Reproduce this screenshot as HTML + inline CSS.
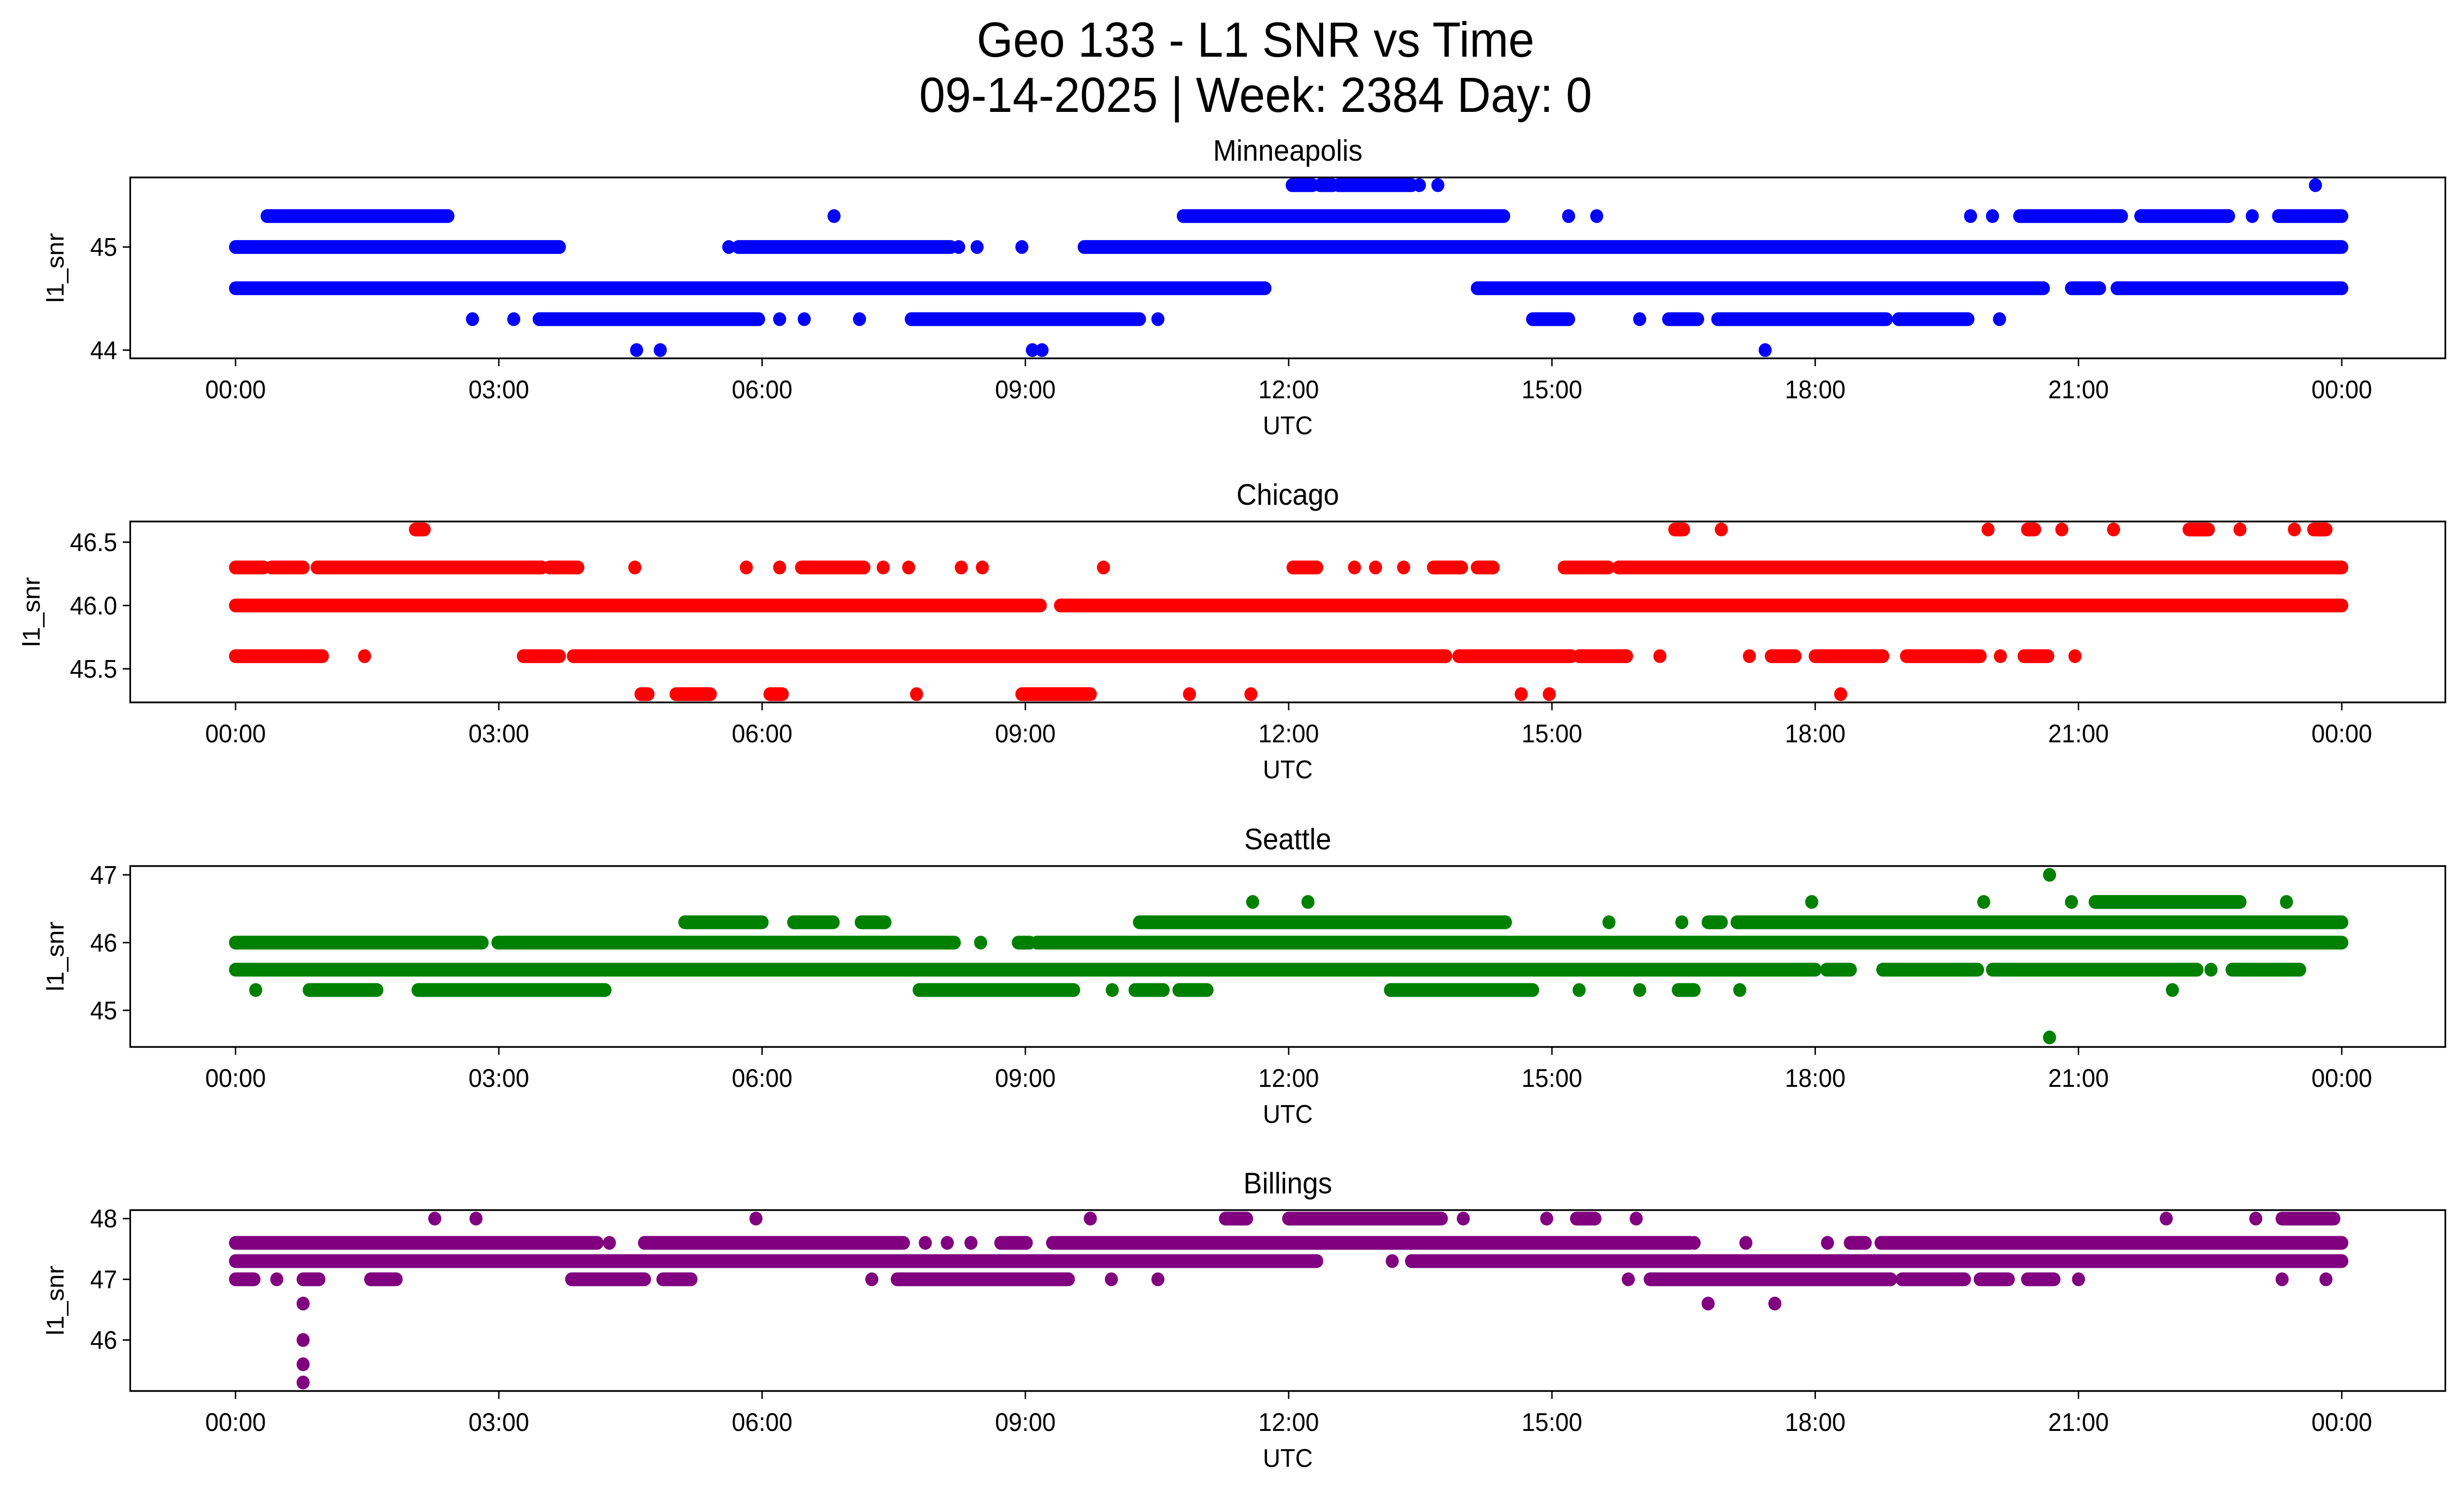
<!DOCTYPE html>
<html><head><meta charset="utf-8"><style>
html,body{margin:0;padding:0;background:#fff;overflow:hidden;width:100%;height:100%;}
svg{display:block;width:100vw;height:100vh;font-family:"Liberation Sans","DejaVu Sans",sans-serif;}
</style></head><body>
<svg id="fig" viewBox="0 0 5279 3033" preserveAspectRatio="none" xmlns="http://www.w3.org/2000/svg">
<rect width="5279" height="3033" fill="#fff"/>
<text x="2690" y="115" font-size="100" text-anchor="middle">Geo 133 - L1 SNR vs Time</text>
<text x="2690" y="227" font-size="100" text-anchor="middle">09-14-2025 | Week: 2384 Day: 0</text>
<g id="plots"></g>
</svg>
<script>
// ---- data (hours UTC, runs of consecutive samples per SNR level) ----
const xTickHours = [0,3,6,9,12,15,18,21,24];
const xTickLabels = ["00:00","03:00","06:00","09:00","12:00","15:00","18:00","21:00","00:00"];

const minnLevels = [45.6,45.3,45.0,44.6,44.3,44.0];
const minnRuns = [
 [[12.04,12.27],[12.36,12.5],[12.57,13.4],[13.49,13.49],[13.7,13.7],[23.7,23.7]],
 [[0.36,2.42],[6.82,6.82],[10.8,14.45],[15.19,15.19],[15.51,15.51],[19.77,19.77],[20.02,20.02],[20.33,21.49],[21.71,22.71],[22.98,22.98],[23.28,24]],
 [[0,3.69],[5.62,5.62],[5.73,8.15],[8.24,8.24],[8.45,8.45],[8.96,8.96],[9.67,24]],
 [[0,11.73],[14.15,20.6],[20.92,21.24],[21.44,24]],
 [[2.7,2.7],[3.17,3.17],[3.46,5.96],[6.2,6.2],[6.48,6.48],[7.11,7.11],[7.7,10.3],[10.51,10.51],[14.78,15.19],[16.0,16.0],[16.33,16.66],[16.89,18.81],[18.95,19.74],[20.1,20.1]],
 [[4.57,4.57],[4.84,4.84],[9.08,9.08],[9.19,9.19],[17.43,17.43]]
];
const chiLevels = [46.6,46.3,46.0,45.6,45.3];
const chiRuns = [
 [[2.05,2.15],[16.4,16.5],[16.93,16.93],[19.97,19.97],[20.42,20.5],[20.81,20.81],[21.4,21.4],[22.26,22.48],[22.84,22.84],[23.46,23.46],[23.68,23.82]],
 [[0,0.32],[0.41,0.77],[0.93,3.49],[3.58,3.9],[4.55,4.55],[5.82,5.82],[6.2,6.2],[6.45,7.16],[7.38,7.38],[7.67,7.67],[8.27,8.27],[8.51,8.51],[9.89,9.89],[12.05,12.32],[12.75,12.75],[12.99,12.99],[13.31,13.31],[13.65,13.97],[14.15,14.33],[15.14,15.64],[15.76,24]],
 [[0,9.17],[9.4,24]],
 [[0,0.99],[1.47,1.47],[3.28,3.69],[3.85,13.79],[13.94,15.22],[15.31,15.85],[16.23,16.23],[17.25,17.25],[17.5,17.77],[18.0,18.77],[19.04,19.88],[20.11,20.11],[20.38,20.65],[20.96,20.96]],
 [[4.62,4.7],[5.02,5.41],[6.09,6.23],[7.76,7.76],[8.96,9.74],[10.87,10.87],[11.57,11.57],[14.65,14.65],[14.97,14.97],[18.29,18.29]]
];
const seaLevels = [47.0,46.6,46.3,46.0,45.6,45.3,44.6];
const seaRuns = [
 [[20.67,20.67]],
 [[11.59,11.59],[12.22,12.22],[17.96,17.96],[19.92,19.92],[20.92,20.92],[21.19,22.84],[23.37,23.37]],
 [[5.12,6.0],[6.36,6.81],[7.13,7.4],[10.3,14.47],[15.65,15.65],[16.48,16.48],[16.78,16.93],[17.11,24]],
 [[0,2.81],[2.99,8.19],[8.49,8.49],[8.92,9.05],[9.13,24]],
 [[0,18.0],[18.13,18.4],[18.77,19.85],[20.02,22.35],[22.51,22.51],[22.75,23.52]],
 [[0.23,0.23],[0.84,1.61],[2.08,4.21],[7.79,9.55],[9.99,9.99],[10.25,10.57],[10.75,11.07],[13.16,14.78],[15.31,15.31],[16.0,16.0],[16.44,16.62],[17.14,17.14],[22.07,22.07]],
 [[20.67,20.67]]
];
const bilLevels = [48.0,47.6,47.3,47.0,46.6,46.0,45.6,45.3];
const bilRuns = [
 [[2.27,2.27],[2.74,2.74],[5.93,5.93],[9.74,9.74],[11.28,11.52],[12.0,13.74],[13.99,13.99],[14.94,14.94],[15.28,15.49],[15.96,15.96],[22.0,22.0],[23.02,23.02],[23.32,23.91]],
 [[0,4.12],[4.26,4.26],[4.66,7.61],[7.86,7.86],[8.11,8.11],[8.38,8.38],[8.72,9.01],[9.31,16.57],[16.62,16.62],[17.21,17.21],[18.14,18.14],[18.4,18.57],[18.75,24]],
 [[0,12.32],[13.18,13.18],[13.4,24]],
 [[0,0.21],[0.47,0.47],[0.77,0.95],[1.54,1.83],[3.83,4.66],[4.87,5.19],[7.25,7.25],[7.54,9.49],[9.98,9.98],[10.51,10.51],[15.87,15.87],[16.12,18.86],[18.99,19.7],[19.88,20.2],[20.42,20.72],[21.0,21.0],[23.32,23.32],[23.82,23.82]],
 [[0.77,0.77],[16.78,16.78],[17.54,17.54]],
 [[0.77,0.77]],
 [[0.77,0.77]],
 [[0.77,0.77]]
];

const panels = [
 {name:"minneapolis", title:"Minneapolis", color:"#0000ff", levels:minnLevels, runs:minnRuns, top:360, ymin:43.92, ymax:45.675, yticks:[44,45], ylab:["44","45"], ylx:118},
 {name:"chicago", title:"Chicago", color:"#ff0000", levels:chiLevels, runs:chiRuns, top:1058, ymin:45.235, ymax:46.663, yticks:[45.5,46.0,46.5], ylab:["45.5","46.0","46.5"], ylx:67},
 {name:"seattle", title:"Seattle", color:"#008000", levels:seaLevels, runs:seaRuns, top:1757, ymin:44.46, ymax:47.13, yticks:[45,46,47], ylab:["45","46","47"], ylx:118},
 {name:"billings", title:"Billings", color:"#800080", levels:bilLevels, runs:bilRuns, top:2455, ymin:45.16, ymax:48.14, yticks:[46,47,48], ylab:["46","47","48"], ylx:118}
];

const NS = "http://www.w3.org/2000/svg";
const AX_L = 279, AX_R = 5239, AX_H = 367;
const X0 = -1.2, X1 = 25.18;
function xs(h){ return AX_L + (h - X0) / (X1 - X0) * (AX_R - AX_L); }
function mk(tag, attrs, parent){
  const e = document.createElementNS(NS, tag);
  for (const k in attrs) e.setAttribute(k, attrs[k]);
  parent.appendChild(e); return e;
}
const root = document.getElementById("plots");
const R = 14;
panels.forEach(p => {
  const g = mk("g", {}, root);
  
  
  const top = p.top, bot = top + AX_H;
  const ys = v => bot - (v - p.ymin) / (p.ymax - p.ymin) * AX_H;
  const t = mk("text", {x:(AX_L+AX_R)/2, y:top-34, "font-size":60, "text-anchor":"middle"}, g);
  t.textContent = p.title;
  
  
  const dg = mk("g", {fill:p.color, stroke:p.color}, g);
  
  
  p.levels.forEach((lv, i) => {
    const y = ys(lv);
    p.runs[i].forEach(r => {
      let m;
      if (r[0] === r[1]) {
        m = mk("circle", {cx:xs(r[0]), cy:y, r:R, stroke:"none"}, dg);
      } else {
        m = mk("line", {x1:xs(r[0]), y1:y, x2:xs(r[1]), y2:y, "stroke-width":2*R, "stroke-linecap":"round"}, dg);
      }
      
      
    });
  });
  const fr = mk("rect", {x:AX_L, y:top, width:AX_R-AX_L, height:AX_H, fill:"none", stroke:"#000", "stroke-width":3.5}, g);
  
  
  xTickHours.forEach((h, i) => {
    const x = xs(h);
    const tk = mk("line", {x1:x, y1:bot, x2:x, y2:bot+16, stroke:"#000", "stroke-width":3}, g);
    
    
    const tl = mk("text", {x:x, y:bot+81, "font-size":52, "text-anchor":"middle"}, g);
    tl.textContent = xTickLabels[i];
    
    
  });
  const xl = mk("text", {x:(AX_L+AX_R)/2, y:bot+154, "font-size":52, "text-anchor":"middle"}, g);
  xl.textContent = "UTC";
  
  
  p.yticks.forEach((v, i) => {
    const y = ys(v);
    const tk = mk("line", {x1:AX_L-16, y1:y, x2:AX_L, y2:y, stroke:"#000", "stroke-width":3}, g);
    
    
    const tl = mk("text", {x:AX_L-28, y:y+18, "font-size":52, "text-anchor":"end"}, g);
    tl.textContent = p.ylab[i];
    
    
  });
  const yc = top + AX_H/2;
  const yl = mk("text", {x:p.ylx, y:yc, "font-size":52, "text-anchor":"middle", "dominant-baseline":"central", transform:`rotate(-90 ${p.ylx} ${yc})`}, g);
  yl.textContent = "l1_snr";
  
  
});
</script>
</body></html>
